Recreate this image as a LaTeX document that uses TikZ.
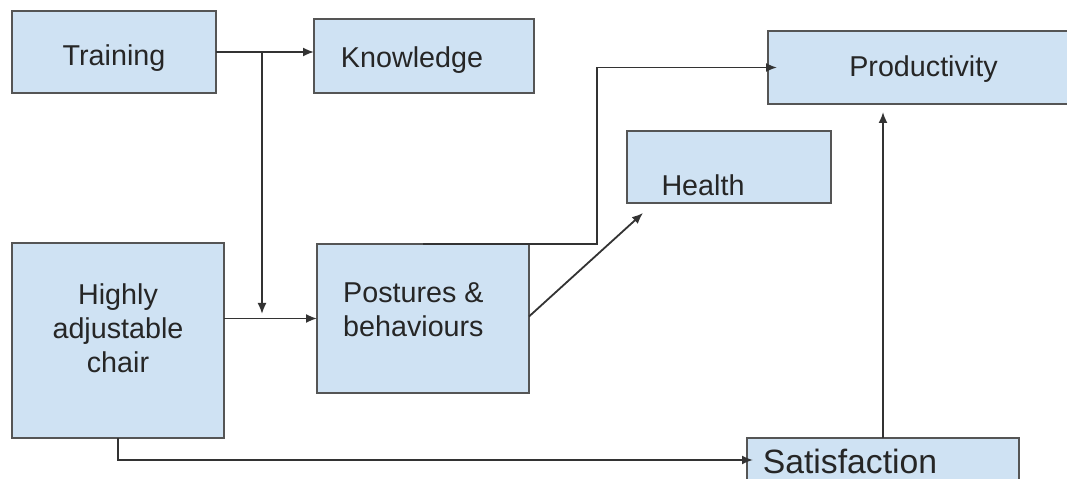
\documentclass[tikz,border=0pt]{standalone}
\usepackage{fontspec}
\setmainfont{Liberation Sans}
\usetikzlibrary{arrows.meta}
\definecolor{boxblue}{HTML}{CFE2F3}
\definecolor{boxgray}{HTML}{555555}
\definecolor{linegray}{HTML}{333333}
\definecolor{txt}{HTML}{262626}
\tikzset{
  box/.style={draw=boxgray, line width=2.2bp, fill=boxblue, inner sep=0pt, outer sep=0pt},
  lbl/.style={text=txt, inner sep=0pt, font=\fontsize{28.7bp}{34bp}\selectfont},
  biglbl/.style={text=txt, inner sep=0pt, font=\fontsize{33.7bp}{38bp}\selectfont},
  arr/.style={draw=linegray, line width=1.8bp, -{Latex[length=11bp,width=9bp]}},
  ln/.style={draw=linegray, line width=1.8bp}
}
\begin{document}
\begin{tikzpicture}[x=1bp,y=-1bp]
\useasboundingbox (0,0) rectangle (1067,479);
\clip (0,0) rectangle (1067,479);
\fill[white] (0,0) rectangle (1067,479);
% boxes
\node[box, minimum width=204bp, minimum height=82bp] (train) at (114,52) {};
\node[box, minimum width=220bp, minimum height=74bp] (know) at (424,56) {};
\node[box, minimum width=307bp, minimum height=73bp] (prod) at (921.5,67.5) {};
\node[box, minimum width=204bp, minimum height=72bp] (health) at (729,167) {};
\node[box, minimum width=212bp, minimum height=195bp] (chair) at (118,340.5) {};
\node[box, minimum width=212bp, minimum height=149bp] (post) at (423,318.5) {};
\node[box, minimum width=272bp, minimum height=62bp] (satis) at (883,469) {};
% labels
\node[lbl] (ttrain) at (114,58) {Training};
\node[lbl] (tknow) at (412,60) {Knowledge};
\node[lbl] (tprod) at (923.5,69) {Productivity};
\node[lbl] (thealth) at (703,185) {Health};
\node[lbl, align=center] (tchair) at (118,328) {Highly\\adjustable\\chair};
\node[lbl, align=left, anchor=west] (tpost) at (343,310) {Postures \&\\behaviours};
\node[biglbl] (tsatis) at (850,461) {Satisfaction};
% helper coordinates
\coordinate (j1) at (262,52);
\coordinate (j2) at (262,314);
\coordinate (h1) at (643,213);
\coordinate (s1) at (753,460);
\coordinate (p1) at (883,112);
% connectors
\draw[arr] (train.east) -- (know.west |- train.east);
\draw[arr] (j1) -- (j2);
\draw[arr] (chair.east |- post.west) -- (post.west);
\draw[arr, shorten >=-9bp] (post.north) -- ++(174,0) |- (prod.west);
\draw[arr] (post.east) ++(0,-2) -- (h1);
\draw[arr] (chair.south) |- (s1);
\draw[arr] (satis.north) -- (p1);
\end{tikzpicture}
\end{document}
